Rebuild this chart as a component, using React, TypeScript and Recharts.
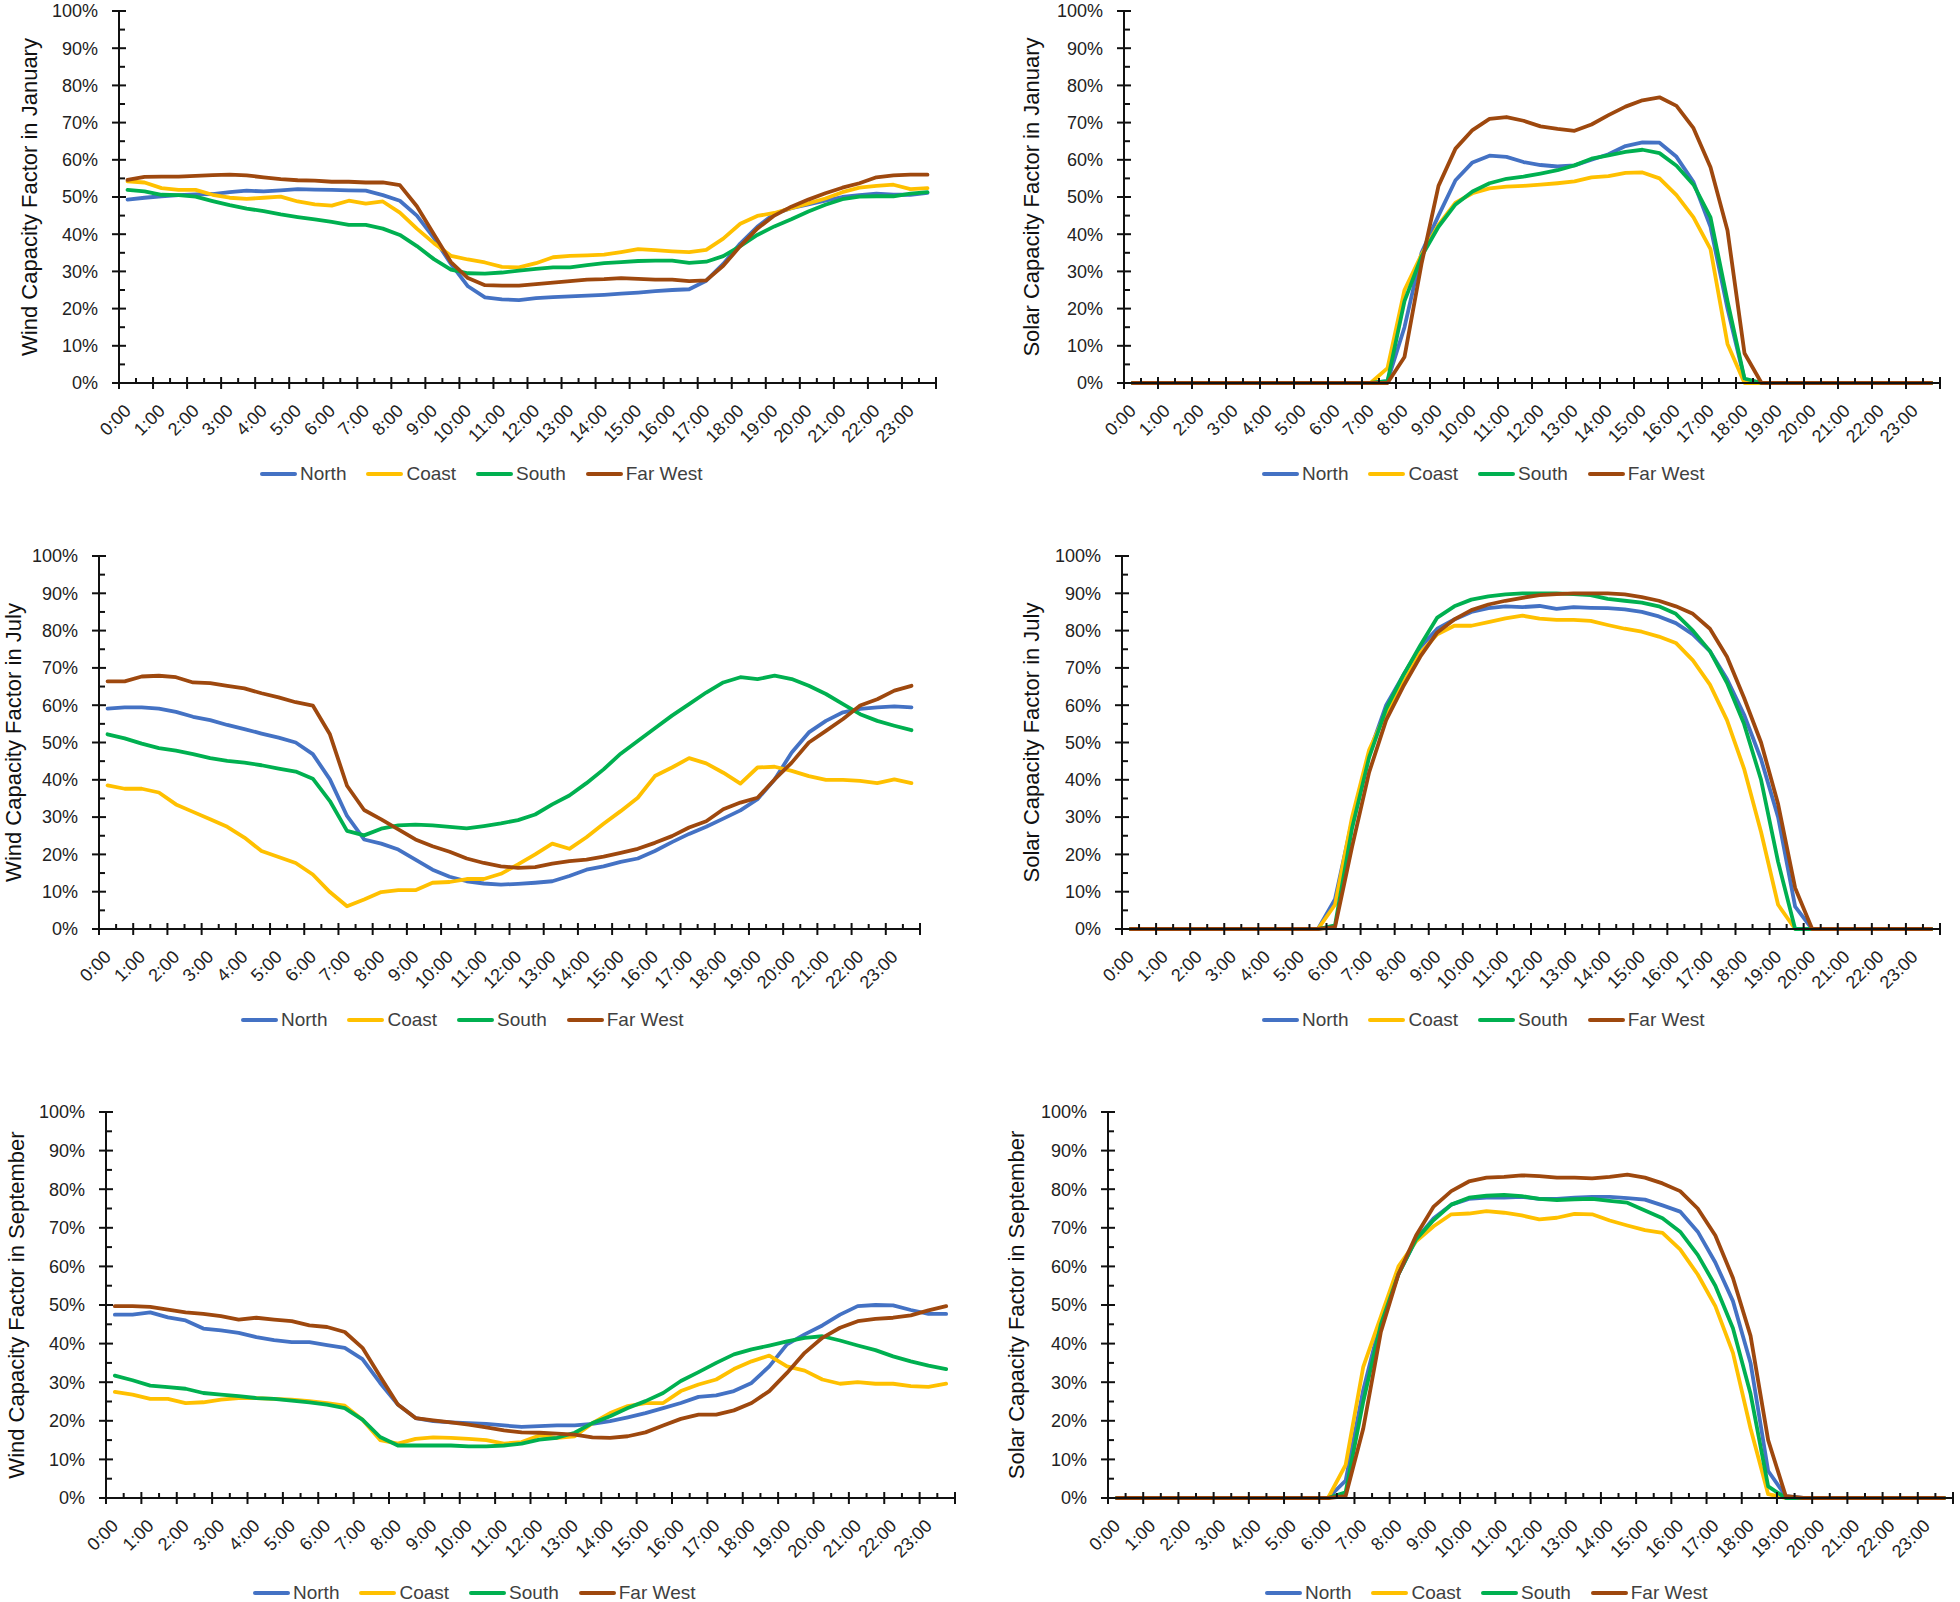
import React from "react";
import { LineChart, Line, XAxis, YAxis, Label } from "recharts";

// hour labels on the x axis, one per two half-hour slots
const HOURS = [
  "0:00", "1:00", "2:00", "3:00", "4:00", "5:00", "6:00", "7:00", "8:00", "9:00", "10:00", "11:00",
  "12:00", "13:00", "14:00", "15:00", "16:00", "17:00", "18:00", "19:00", "20:00", "21:00", "22:00", "23:00",
];
const SLOTS = HOURS.flatMap((h) => [h, h.replace(":00", ":30")]);
const Y_TICKS = [0, 5, 10, 15, 20, 25, 30, 35, 40, 45, 50, 55, 60, 65, 70, 75, 80, 85, 90, 95, 100];

const SERIES = [
  { key: "north", name: "North", color: "#4472C4" },
  { key: "coast", name: "Coast", color: "#FFC000" },
  { key: "south", name: "South", color: "#00B050" },
  { key: "farWest", name: "Far West", color: "#9E480E" },
];

// ---- Wind, January (%)
const windJanNorth = [49.3, 49.8, 50.2, 50.5, 50.7, 50.8, 51.3, 51.7, 51.5, 51.8, 52.1, 52.0, 51.9, 51.8, 51.7, 50.5, 49.0, 45.0, 39.0, 32.0, 26.0, 23.0, 22.5, 22.3, 22.8, 23.1, 23.3, 23.5, 23.7, 24.0, 24.3, 24.7, 25.0, 25.2, 27.5, 32.0, 37.5, 42.0, 45.5, 47.0, 48.0, 49.0, 50.0, 50.5, 50.9, 50.6, 50.6, 51.1];
const windJanCoast = [54.2, 53.9, 52.4, 51.9, 51.9, 50.6, 49.8, 49.5, 49.8, 50.1, 48.8, 48.0, 47.7, 49.0, 48.2, 48.8, 45.8, 41.5, 37.6, 34.2, 33.2, 32.4, 31.2, 31.1, 32.2, 33.8, 34.2, 34.3, 34.5, 35.2, 36.0, 35.7, 35.4, 35.2, 35.8, 38.8, 42.8, 44.9, 45.7, 47.0, 48.3, 49.6, 51.3, 52.5, 53.0, 53.3, 52.1, 52.4];
const windJanSouth = [51.9, 51.5, 50.6, 50.5, 50.1, 48.9, 47.8, 46.9, 46.2, 45.3, 44.6, 44.0, 43.3, 42.5, 42.5, 41.5, 39.8, 36.8, 33.3, 30.5, 29.5, 29.4, 29.7, 30.2, 30.7, 31.1, 31.1, 31.7, 32.2, 32.5, 32.8, 32.9, 32.9, 32.3, 32.6, 34.1, 36.8, 39.8, 42.1, 44.0, 46.1, 47.9, 49.4, 50.1, 50.2, 50.2, 50.9, 51.3];
const windJanFarWest = [54.6, 55.4, 55.5, 55.5, 55.7, 55.9, 56.0, 55.8, 55.3, 54.8, 54.5, 54.4, 54.1, 54.1, 53.9, 53.9, 53.2, 47.5, 40.0, 32.5, 28.2, 26.3, 26.2, 26.2, 26.6, 27.0, 27.4, 27.8, 27.9, 28.2, 28.0, 27.8, 27.8, 27.4, 27.6, 31.5, 36.8, 41.5, 45.0, 47.4, 49.3, 51.0, 52.5, 53.7, 55.3, 55.8, 56.0, 56.0];

// ---- Solar, January (%)
const solarJanNorth = [0, 0, 0, 0, 0, 0, 0, 0, 0, 0, 0, 0, 0, 0, 0, 0.5, 15, 35, 45, 54.5, 59.3, 61.1, 60.8, 59.4, 58.6, 58.2, 58.5, 60, 61.5, 63.7, 64.7, 64.6, 60.8, 54, 42, 20, 1, 0, 0, 0, 0, 0, 0, 0, 0, 0, 0, 0];
const solarJanCoast = [0, 0, 0, 0, 0, 0, 0, 0, 0, 0, 0, 0, 0, 0, 0, 4, 25, 34.5, 42.5, 48.5, 51, 52.3, 52.8, 53, 53.3, 53.7, 54.2, 55.3, 55.6, 56.5, 56.6, 55, 50.5, 44.5, 36, 10.5, 0, 0, 0, 0, 0, 0, 0, 0, 0, 0, 0, 0];
const solarJanSouth = [0, 0, 0, 0, 0, 0, 0, 0, 0, 0, 0, 0, 0, 0, 0, 0.5, 22, 34, 42, 48, 51.5, 53.7, 54.9, 55.5, 56.3, 57.2, 58.5, 60.3, 61.2, 62.1, 62.7, 61.8, 58.4, 53.3, 44.5, 22, 1.2, 0, 0, 0, 0, 0, 0, 0, 0, 0, 0, 0];
const solarJanFarWest = [0, 0, 0, 0, 0, 0, 0, 0, 0, 0, 0, 0, 0, 0, 0, 0, 7, 32, 53, 63, 68, 71, 71.5, 70.5, 69, 68.3, 67.8, 69.5, 72, 74.3, 76, 76.8, 74.5, 68.5, 58, 41, 8, 0, 0, 0, 0, 0, 0, 0, 0, 0, 0, 0];

// ---- Wind, July (%)
const windJulNorth = [59.1, 59.4, 59.4, 59.1, 58.2, 56.9, 56.0, 54.7, 53.6, 52.4, 51.3, 50.0, 46.9, 40.1, 30.3, 24.0, 22.9, 21.3, 18.6, 15.9, 14.0, 12.8, 12.2, 11.9, 12.1, 12.4, 12.8, 14.2, 15.9, 16.8, 18.0, 18.9, 20.9, 23.3, 25.5, 27.4, 29.6, 31.8, 34.8, 40.1, 47.3, 52.7, 55.8, 58.1, 59.0, 59.4, 59.7, 59.4];
const windJulCoast = [38.5, 37.6, 37.6, 36.6, 33.4, 31.4, 29.4, 27.4, 24.5, 20.9, 19.3, 17.7, 14.6, 9.9, 6.1, 7.9, 9.9, 10.4, 10.4, 12.4, 12.6, 13.4, 13.4, 14.8, 17.3, 20.0, 22.9, 21.5, 24.6, 28.2, 31.6, 35.2, 41.0, 43.3, 45.8, 44.4, 41.9, 39.0, 43.3, 43.5, 42.4, 41.0, 40.0, 40.0, 39.7, 39.1, 40.1, 39.1];
const windJulSouth = [52.2, 51.1, 49.7, 48.5, 47.8, 46.9, 45.8, 45.1, 44.6, 43.9, 43.0, 42.2, 40.3, 34.3, 26.3, 25.1, 26.9, 27.8, 28.0, 27.8, 27.4, 27.0, 27.6, 28.3, 29.2, 30.7, 33.4, 35.8, 39.1, 42.8, 47.0, 50.4, 53.8, 57.2, 60.3, 63.4, 66.1, 67.5, 67.0, 67.9, 67.0, 65.2, 63.0, 60.3, 57.6, 55.8, 54.5, 53.3];
const windJulFarWest = [66.4, 66.4, 67.7, 67.9, 67.5, 66.1, 65.9, 65.2, 64.5, 63.2, 62.1, 60.8, 59.9, 52.2, 38.4, 31.9, 29.4, 26.7, 24.0, 22.2, 20.7, 18.9, 17.7, 16.8, 16.4, 16.6, 17.5, 18.2, 18.6, 19.4, 20.4, 21.5, 23.1, 24.9, 27.2, 28.9, 32.1, 33.9, 35.2, 40.1, 44.6, 50.0, 53.1, 56.3, 59.9, 61.6, 63.9, 65.2];

// ---- Solar, July (%)
const solarJulNorth = [0, 0, 0, 0, 0, 0, 0, 0, 0, 0, 0, 0, 8, 29, 47, 60, 68, 75.5, 80.5, 83, 85, 86, 86.5, 86.3, 86.6, 85.8, 86.3, 86.1, 86, 85.7, 85, 83.8, 82, 79, 74.5, 67, 57.5, 45.5, 30, 6, 0, 0, 0, 0, 0, 0, 0, 0];
const solarJulCoast = [0, 0, 0, 0, 0, 0, 0, 0, 0, 0, 0, 0, 6.5, 30, 48, 58, 66, 74, 79, 81.3, 81.3, 82.3, 83.3, 84, 83.2, 82.9, 82.9, 82.6, 81.5, 80.5, 79.7, 78.4, 76.7, 72, 65.5, 56, 43, 26, 6.5, 0, 0, 0, 0, 0, 0, 0, 0, 0];
const solarJulSouth = [0, 0, 0, 0, 0, 0, 0, 0, 0, 0, 0, 0, 1, 27, 46, 59, 68, 76, 83.5, 86.5, 88.3, 89.2, 89.7, 90, 90, 90, 89.8, 89.5, 88.5, 88, 87.5, 86.5, 84.5, 80, 74.5, 66, 55, 40, 18, 0, 0, 0, 0, 0, 0, 0, 0, 0];
const solarJulFarWest = [0, 0, 0, 0, 0, 0, 0, 0, 0, 0, 0, 0, 0.5, 22, 42, 56, 65, 73, 79.5, 83, 85.5, 87, 88, 88.8, 89.5, 89.8, 90, 90, 90, 89.7, 89, 88, 86.5, 84.5, 80.5, 73, 62, 50, 33.5, 11, 0, 0, 0, 0, 0, 0, 0, 0];

// ---- Wind, September (%)
const windSepNorth = [47.5, 47.5, 48.1, 46.8, 46.0, 43.9, 43.4, 42.8, 41.7, 40.9, 40.4, 40.4, 39.6, 38.9, 36.0, 29.8, 24.2, 20.7, 19.9, 19.6, 19.4, 19.2, 18.8, 18.4, 18.6, 18.8, 18.8, 19.2, 19.9, 20.9, 22.0, 23.3, 24.6, 26.2, 26.6, 27.7, 29.8, 34.1, 39.8, 42.4, 44.7, 47.5, 49.7, 50.0, 49.9, 48.7, 47.7, 47.7];
const windSepCoast = [27.5, 26.8, 25.7, 25.7, 24.6, 24.8, 25.5, 25.9, 25.9, 25.7, 25.5, 25.1, 24.6, 23.9, 20.3, 15.0, 14.1, 15.3, 15.7, 15.6, 15.3, 15.0, 14.1, 14.5, 16.2, 15.6, 16.0, 19.4, 22.0, 23.8, 24.6, 24.6, 27.7, 29.4, 30.7, 33.4, 35.4, 36.9, 34.1, 33.0, 30.7, 29.6, 30.0, 29.6, 29.6, 29.0, 28.8, 29.6];
const windSepSouth = [31.7, 30.5, 29.1, 28.7, 28.3, 27.2, 26.8, 26.4, 25.9, 25.7, 25.2, 24.8, 24.2, 23.3, 20.3, 15.8, 13.6, 13.6, 13.6, 13.6, 13.4, 13.4, 13.6, 14.1, 15.1, 15.6, 16.9, 19.4, 21.2, 23.3, 25.1, 27.2, 30.3, 32.6, 35.0, 37.2, 38.5, 39.5, 40.6, 41.5, 41.9, 40.8, 39.5, 38.3, 36.7, 35.4, 34.3, 33.4];
const windSepFarWest = [49.7, 49.7, 49.5, 48.8, 48.1, 47.7, 47.1, 46.2, 46.7, 46.2, 45.8, 44.7, 44.3, 43.0, 38.9, 31.5, 24.2, 20.7, 20.1, 19.6, 19.0, 18.3, 17.5, 17.0, 16.9, 16.7, 16.4, 15.7, 15.6, 16.0, 17.0, 18.8, 20.5, 21.6, 21.6, 22.7, 24.6, 27.7, 32.4, 37.6, 41.5, 44.1, 45.8, 46.4, 46.7, 47.3, 48.6, 49.7];

// ---- Solar, September (%)
const solarSepNorth = [0, 0, 0, 0, 0, 0, 0, 0, 0, 0, 0, 0, 0, 4.5, 28, 46, 58, 67, 72.5, 76, 77.5, 77.8, 77.8, 78, 77.5, 77.5, 77.8, 78, 78, 77.7, 77.3, 75.8, 74.2, 69, 61, 51, 35, 7, 0.5, 0, 0, 0, 0, 0, 0, 0, 0, 0];
const solarSepCoast = [0, 0, 0, 0, 0, 0, 0, 0, 0, 0, 0, 0, 0, 8.6, 34, 47, 60, 66.5, 70.4, 73.5, 73.7, 74.3, 73.9, 73.2, 72.2, 72.6, 73.6, 73.5, 71.9, 70.6, 69.4, 68.7, 64.4, 57.9, 49.7, 37.6, 18, 1, 0, 0, 0, 0, 0, 0, 0, 0, 0, 0];
const solarSepSouth = [0, 0, 0, 0, 0, 0, 0, 0, 0, 0, 0, 0, 0, 1.5, 25, 45, 58, 67, 72, 76, 77.8, 78.3, 78.5, 78.2, 77.5, 77.2, 77.4, 77.5, 77, 76.5, 74.5, 72.5, 69, 63, 55, 44, 27, 3, 0, 0, 0, 0, 0, 0, 0, 0, 0, 0];
const solarSepFarWest = [0, 0, 0, 0, 0, 0, 0, 0, 0, 0, 0, 0, 0, 0.5, 18, 43, 58, 68, 75.5, 79.5, 82, 83, 83.2, 83.6, 83.4, 83, 83, 82.8, 83.2, 83.8, 83, 81.5, 79.5, 75, 68, 57, 42, 15, 0.5, 0, 0, 0, 0, 0, 0, 0, 0, 0];

const AXIS = "#111111";
const TEXT = "#222222";
const FONT = "'Liberation Sans', Arial, sans-serif";
const Y_AXIS_W = 60;
const X_AXIS_H = 60;

const rowsOf = (north: number[], coast: number[], south: number[], farWest: number[]) =>
  SLOTS.map((time, i) => ({ time, north: north[i], coast: coast[i], south: south[i], farWest: farWest[i] }));

// layout of each panel: box = chart frame, plot = axis rectangle (page coords)
const PANELS = [
  { title: "Wind Capacity Factor in January", rows: rowsOf(windJanNorth, windJanCoast, windJanSouth, windJanFarWest),
    box: { x: 0, y: 0, w: 980, h: 540 }, plot: { l: 119, r: 936, t: 11, b: 383 }, titleX: 37, legend: { x: 260, y: 474 } },
  { title: "Solar Capacity Factor in January", rows: rowsOf(solarJanNorth, solarJanCoast, solarJanSouth, solarJanFarWest),
    box: { x: 980, y: 0, w: 980, h: 540 }, plot: { l: 1124, r: 1940, t: 11, b: 383 }, titleX: 1039, legend: { x: 1262, y: 474 } },
  { title: "Wind Capacity Factor in July", rows: rowsOf(windJulNorth, windJulCoast, windJulSouth, windJulFarWest),
    box: { x: 0, y: 540, w: 980, h: 550 }, plot: { l: 99, r: 920, t: 556, b: 929 }, titleX: 21, legend: { x: 241, y: 1020 } },
  { title: "Solar Capacity Factor in July", rows: rowsOf(solarJulNorth, solarJulCoast, solarJulSouth, solarJulFarWest),
    box: { x: 980, y: 540, w: 980, h: 550 }, plot: { l: 1122, r: 1940, t: 556, b: 929 }, titleX: 1039, legend: { x: 1262, y: 1020 } },
  { title: "Wind Capacity Factor in September", rows: rowsOf(windSepNorth, windSepCoast, windSepSouth, windSepFarWest),
    box: { x: 0, y: 1090, w: 980, h: 512 }, plot: { l: 106, r: 955, t: 1112, b: 1498 }, titleX: 24, legend: { x: 253, y: 1593 } },
  { title: "Solar Capacity Factor in September", rows: rowsOf(solarSepNorth, solarSepCoast, solarSepSouth, solarSepFarWest),
    box: { x: 980, y: 1090, w: 980, h: 512 }, plot: { l: 1108, r: 1953, t: 1112, b: 1498 }, titleX: 1024, legend: { x: 1265, y: 1593 } },
];

const makeHourTick = (cw: number) => (props: any) => {
  const { x, y, index, payload } = props;
  const major = index % 2 === 0;
  const left = x - cw / 2;
  const tx = x + 4.5;
  const ty = y + 29;
  return (
    <g>
      <line x1={left} x2={left} y1={y - (major ? 6 : 5)} y2={major ? y + 6 : y} stroke={AXIS} strokeWidth={2} />
      {index === SLOTS.length - 1 && (
        <line x1={x + cw / 2} x2={x + cw / 2} y1={y - 6} y2={y + 6} stroke={AXIS} strokeWidth={2} />
      )}
      {major && (
        <text x={tx} y={ty} textAnchor="end" transform={`rotate(-45 ${tx} ${ty})`} fontSize={18} fontFamily={FONT} fill={TEXT}>
          {payload.value}
        </text>
      )}
    </g>
  );
};

const pctTick = (props: any) => {
  const { x, y, payload } = props;
  const v = payload.value;
  const major = v % 10 === 0;
  return (
    <g>
      <line x1={major ? x - 7 : x} x2={x + (major ? 7 : 6)} y1={y} y2={y} stroke={AXIS} strokeWidth={2} />
      {major && (
        <text x={x - 21} y={y} dy="0.35em" textAnchor="end" fontSize={18} fontFamily={FONT} fill={TEXT}>
          {`${v}%`}
        </text>
      )}
    </g>
  );
};

function Panel({ p }: { p: (typeof PANELS)[number] }) {
  const { box, plot } = p;
  const cw = (plot.r - plot.l) / SLOTS.length;
  const margin = {
    top: plot.t - box.y,
    left: plot.l - box.x - Y_AXIS_W,
    right: box.x + box.w - plot.r,
    bottom: box.y + box.h - plot.b - X_AXIS_H,
  };
  const titleX = p.titleX - box.x;
  const titleY = (plot.t + plot.b) / 2 - box.y;
  return (
    <div style={{ position: "absolute", left: box.x, top: box.y, width: box.w, height: box.h }}>
      <LineChart width={box.w} height={box.h} data={p.rows} margin={margin}>
        <XAxis
          dataKey="time"
          interval={0}
          height={X_AXIS_H}
          tickSize={0}
          tickMargin={0}
          tickLine={false}
          padding={{ left: cw / 2, right: cw / 2 }}
          axisLine={{ stroke: AXIS, strokeWidth: 2 }}
          tick={makeHourTick(cw)}
        />
        <YAxis
          domain={[0, 100]}
          ticks={Y_TICKS}
          interval={0}
          width={Y_AXIS_W}
          tickSize={0}
          tickMargin={0}
          tickLine={false}
          axisLine={{ stroke: AXIS, strokeWidth: 2 }}
          tick={pctTick}
        >
          <Label
            content={() => (
              <text x={titleX} y={titleY} textAnchor="middle" transform={`rotate(-90 ${titleX} ${titleY})`} fontSize={22} fontFamily={FONT} fill="#111111">
                {p.title}
              </text>
            )}
          />
        </YAxis>
        {SERIES.map((s) => (
          <Line
            key={s.key}
            type="linear"
            dataKey={s.key}
            name={s.name}
            stroke={s.color}
            strokeWidth={3.8}
            strokeLinejoin="round"
            strokeLinecap="round"
            dot={false}
            activeDot={false}
            isAnimationActive={false}
          />
        ))}
      </LineChart>
      <div
        style={{
          position: "absolute",
          left: p.legend.x - box.x,
          top: p.legend.y - box.y - 12,
          height: 24,
          display: "flex",
          alignItems: "center",
          gap: 20,
          fontFamily: FONT,
          fontSize: 19,
          color: "#404040",
          whiteSpace: "nowrap",
        }}
      >
        {SERIES.map((s) => (
          <div key={s.key} style={{ display: "flex", alignItems: "center", gap: 3 }}>
            <div style={{ width: 37, height: 4, borderRadius: 2, background: s.color }} />
            <span>{s.name}</span>
          </div>
        ))}
      </div>
    </div>
  );
}

export default function App() {
  return (
    <div style={{ position: "absolute", left: 0, top: 0, width: 1960, height: 1602, overflow: "hidden", background: "#ffffff" }}>
      {PANELS.map((p) => (
        <Panel key={p.title} p={p} />
      ))}
    </div>
  );
}
